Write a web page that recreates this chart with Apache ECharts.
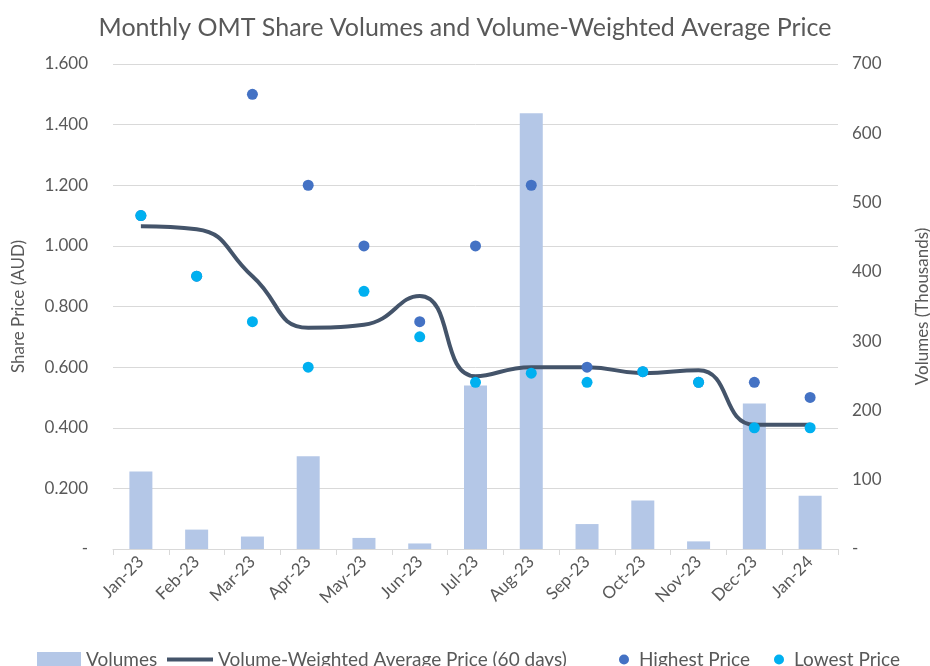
<!DOCTYPE html>
<html>
<head>
<meta charset="utf-8">
<script src="https://cdn.jsdelivr.net/npm/echarts@6/dist/echarts.min.js"></script>
<style>
html,body{margin:0;padding:0;background:#fff;}
#chart{width:930px;height:666px;}
</style>
</head>
<body>
<div id="chart"></div>
<script>
const categories = ['Jan-23','Feb-23','Mar-23','Apr-23','May-23','Jun-23','Jul-23','Aug-23','Sep-23','Oct-23','Nov-23','Dec-23','Jan-24'];
const volumes = [112, 28, 18, 134, 16, 8, 236, 629, 36, 70, 11, 210, 77];
const vwap = [1.065, 1.055, 0.90, 0.73, 0.74, 0.835, 0.57, 0.60, 0.60, 0.58, 0.59, 0.41, 0.41];
const highest = [1.10, 0.90, 1.50, 1.20, 1.00, 0.75, 1.00, 1.20, 0.60, 0.585, 0.55, 0.55, 0.50];
const lowest = [1.10, 0.90, 0.75, 0.60, 0.85, 0.70, 0.55, 0.58, 0.55, 0.585, 0.55, 0.40, 0.40];

const FONT = 'Lato';
const GREY = '#595959';
const chart = echarts.init(document.getElementById('chart'));
const legendText = {color: GREY, fontSize: 19, fontFamily: FONT};
chart.setOption({
  animation: false,
  backgroundColor: '#ffffff',
  title: {
    text: 'Monthly OMT Share Volumes and Volume-Weighted Average Price',
    left: 'center', top: 10,
    textStyle: {color: GREY, fontSize: 25, fontWeight: 'normal', fontFamily: FONT}
  },
  grid: {left: 113, right: 92, top: 64, bottom: 117, containLabel: false, outerBoundsMode: 'none'},
  legend: [
    {data: [{name: 'Volumes', icon: 'rect'}], left: 37, top: 650, itemWidth: 44, itemHeight: 15, textStyle: legendText, padding: 0},
    {data: [{name: 'Volume-Weighted Average Price (60 days)', icon: 'path://M0,0 L46,0 L46,4 L0,4 Z'}], left: 167, top: 650, itemWidth: 46, itemHeight: 15, textStyle: legendText, padding: 0},
    {data: [{name: 'Highest Price', icon: 'circle'}], left: 619, top: 650, itemWidth: 20, itemHeight: 10, textStyle: legendText, padding: 0},
    {data: [{name: 'Lowest Price', icon: 'circle'}], left: 774, top: 650, itemWidth: 20, itemHeight: 10, textStyle: legendText, padding: 0}
  ],
  xAxis: {
    type: 'category', data: categories, boundaryGap: true,
    axisLine: {lineStyle: {color: '#d9d9d9', width: 1}},
    axisTick: {show: true, alignWithLabel: false, length: 6, lineStyle: {color: '#d9d9d9'}},
    axisLabel: {rotate: 45, color: GREY, fontSize: 17, fontFamily: FONT, margin: 10, interval: 0}
  },
  yAxis: [
    {
      type: 'value', min: 0, max: 1.6, interval: 0.2,
      name: 'Share Price (AUD)', nameLocation: 'middle', nameRotate: 90, nameGap: 86,
      nameTextStyle: {color: GREY, fontSize: 17, fontFamily: FONT},
      axisLine: {show: false}, axisTick: {show: false},
      splitLine: {lineStyle: {color: '#d9d9d9', width: 1}},
      axisLabel: {color: GREY, fontSize: 17, fontFamily: FONT, margin: 25,
        formatter: v => v === 0 ? '-' : v.toFixed(3)}
    },
    {
      type: 'value', min: 0, max: 700, interval: 100, position: 'right',
      name: 'Volumes (Thousands)', nameLocation: 'middle', nameRotate: 90, nameGap: 76,
      nameTextStyle: {color: GREY, fontSize: 17, fontFamily: FONT},
      axisLine: {show: false}, axisTick: {show: false}, splitLine: {show: false},
      axisLabel: {color: GREY, fontSize: 17, fontFamily: FONT, margin: 14,
        formatter: v => v === 0 ? '-' : String(v)}
    }
  ],
  series: [
    {name: 'Volumes', type: 'bar', yAxisIndex: 1, data: volumes, barWidth: 23,
      itemStyle: {color: '#b4c7e7'}, z: 1},
    {name: 'Volume-Weighted Average Price (60 days)', type: 'line', yAxisIndex: 0, data: vwap,
      smooth: 0.5, showSymbol: false, symbol: 'none',
      lineStyle: {color: '#44546a', width: 4}, itemStyle: {color: '#44546a'}, z: 2},
    {name: 'Highest Price', type: 'scatter', yAxisIndex: 0, data: highest, symbolSize: 11,
      itemStyle: {color: '#4472c4', opacity: 1}, z: 3},
    {name: 'Lowest Price', type: 'scatter', yAxisIndex: 0, data: lowest, symbolSize: 11,
      itemStyle: {color: '#00b0f0', opacity: 1}, z: 4}
  ]
});
</script>
</body>
</html>
